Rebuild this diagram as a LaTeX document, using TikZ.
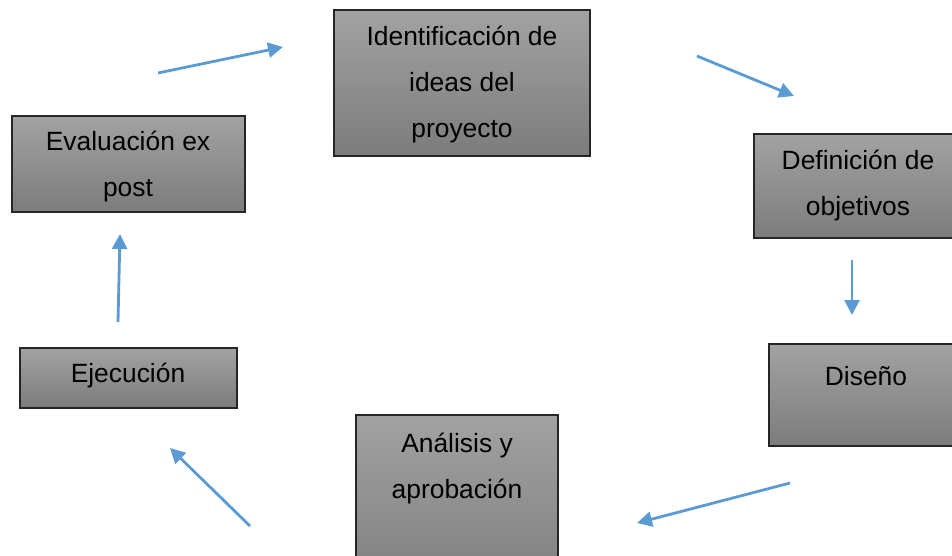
\documentclass[tikz,border=0pt]{standalone}
\usepackage{fontspec}
\setmainfont{Liberation Sans}
\usetikzlibrary{arrows.meta}
\definecolor{arrowblue}{HTML}{5B9BD5}
\definecolor{boxtop}{HTML}{A2A2A2}
\definecolor{boxbot}{HTML}{7C7C7C}
\definecolor{boxline}{HTML}{262626}
\tikzset{
  stagebox/.style={draw=boxline, line width=1.3pt, top color=boxtop, bottom color=boxbot, inner sep=0pt},
  stagetext/.style={font=\fontsize{26.4}{46}\selectfont, align=center, anchor=base, inner sep=0pt},
  flow/.style={draw=arrowblue, line width=2.8pt, -{Triangle[length=15pt,width=15pt]}}
}
\begin{document}
\begin{tikzpicture}[x=1pt,y=-1pt]
\useasboundingbox (0,0) rectangle (952,555);
\clip (0,0) rectangle (952,555);
% boxes (text anchors are the baseline of the last line)
\path[stagebox] (334,10) rectangle (590,156);
\node[stagetext] (idt) at (462,137) {Identificación de\\ideas del\\proyecto};
\path[stagebox] (754,134) rectangle (962,238);
\node[stagetext] (deft) at (858,215) {Definición de\\objetivos};
\path[stagebox] (769,344) rectangle (963,446);
\node[stagetext] (dist) at (866,385) {Diseño};
\path[stagebox] (356,415) rectangle (558,600);
\node[stagetext] (anat) at (457,498) {Análisis y\\aprobación};
\path[stagebox] (20,348) rectangle (237,408);
\node[stagetext] (ejet) at (128,382) {Ejecución};
\path[stagebox] (12,116) rectangle (245,212);
\node[stagetext] (evat) at (128,196) {Evaluación ex\\post};
% arrow end points
\coordinate (a1s) at (158,73);  \coordinate (a1e) at (283,47);
\coordinate (a2s) at (697,56);  \coordinate (a2e) at (794,96);
\coordinate (a3s) at (852,260); \coordinate (a3e) at (852,315);
\coordinate (a4s) at (790,483); \coordinate (a4e) at (637,523);
\coordinate (a5s) at (250,526); \coordinate (a5e) at (170,448);
\coordinate (a6s) at (118,322); \coordinate (a6e) at (120,234);
\draw[flow] (a1s) -- (a1e);
\draw[flow] (a2s) -- (a2e);
\draw[flow] (a3s) -- (a3e);
\draw[flow] (a4s) -- (a4e);
\draw[flow] (a5s) -- (a5e);
\draw[flow] (a6s) -- (a6e);
\end{tikzpicture}
\end{document}
